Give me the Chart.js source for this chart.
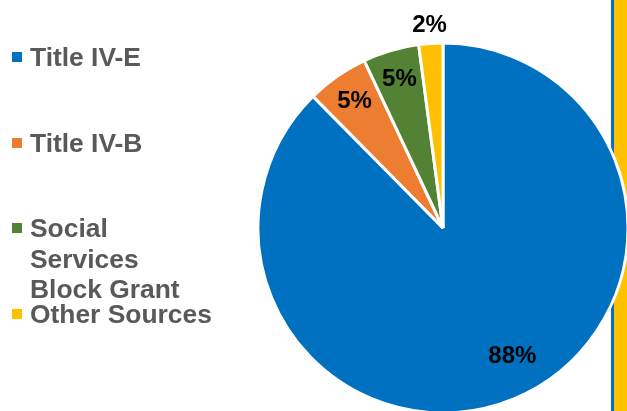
<!DOCTYPE html>
<html>
<head>
<meta charset="utf-8">
<script src="https://cdn.jsdelivr.net/npm/chart.js@4/dist/chart.umd.min.js"></script>
<style>
  html, body { margin: 0; padding: 0; background: #fff; overflow: hidden; }
  body { font-family: "Liberation Sans", Arial, sans-serif; }
  #pie { position: absolute; left: 0; top: 0; }
  #legend { position: absolute; z-index: 2; left: 0; top: 0; }
  .item { position: absolute; left: 0; width: 230px; }
  .item .box { position: absolute; left: 12px; top: 10px; width: 10px; height: 10px; }
  .item .txt { position: absolute; left: 30px; top: 0; width: 185px; font-weight: bold; font-size: 26.4px; line-height: 30.5px; color: #595959; }
</style>
</head>
<body>
<canvas id="pie" width="627" height="411"></canvas>
<div id="legend"></div>
<script>
// Funding sources (share of total, %)
const sources = ['Title IV-E', 'Title IV-B', 'Social Services Block Grant', 'Other Sources'];
const shares = [87.6, 5.4, 4.9, 2.1];
const colors = ['#0070C0', '#ED7D31', '#548235', '#FFC000'];

// label placement: fraction of radius, angle nudge in degrees
const labelPos = [
    { r: 0.79, shift: -6 },
    { r: 0.835, shift: 0 },
    { r: 0.835, shift: 0 },
    { r: 1.1, shift: 0 }
];

// HTML legend on the left
const legend = document.getElementById('legend');
sources.forEach((name, i) => {
    const item = document.createElement('div');
    item.className = 'item';
    item.style.top = (42 + i * 85.7) + 'px';
    item.innerHTML = '<div class="box" style="background:' + colors[i] + '"></div><div class="txt">' + name + '</div>';
    legend.appendChild(item);
});

// slide decoration: thin blue + yellow band on the right edge,
// kept outside the pie disc so the pie sits on top of it
const sideBand = {
    id: 'sideBand',
    afterDatasetsDraw(chart) {
        const ctx = chart.ctx;
        const arc = chart.getDatasetMeta(0).data[0];
        const p = arc.getProps(['x', 'y', 'outerRadius'], true);
        const bw = arc.options.borderWidth || 0;
        ctx.save();
        ctx.beginPath();
        ctx.rect(0, 0, chart.width, chart.height);
        ctx.arc(p.x, p.y, p.outerRadius + bw / 2, 0, Math.PI * 2, true);
        ctx.clip('evenodd');
        ctx.fillStyle = '#0070C0';
        ctx.fillRect(611, 0, 3, chart.height);
        ctx.fillStyle = '#FFC000';
        ctx.fillRect(614, 0, chart.width - 614, chart.height);
        ctx.restore();
    }
};

const pctLabels = {
    id: 'pctLabels',
    afterDatasetsDraw(chart) {
        const ctx = chart.ctx;
        const arcs = chart.getDatasetMeta(0).data;
        ctx.save();
        ctx.font = 'bold 24px "Liberation Sans", Arial, sans-serif';
        ctx.fillStyle = '#000';
        ctx.textAlign = 'center';
        ctx.textBaseline = 'middle';
        arcs.forEach((arc, i) => {
            const p = arc.getProps(['x', 'y', 'startAngle', 'endAngle', 'outerRadius'], true);
            const mid = (p.startAngle + p.endAngle) / 2 + labelPos[i].shift * Math.PI / 180;
            const rr = p.outerRadius * labelPos[i].r;
            ctx.fillText(Math.round(shares[i]) + '%', p.x + Math.cos(mid) * rr, p.y + Math.sin(mid) * rr);
        });
        ctx.restore();
    }
};

new Chart(document.getElementById('pie'), {
    type: 'pie',
    data: {
        labels: sources,
        datasets: [{
            data: shares,
            backgroundColor: colors,
            borderColor: '#fff',
            borderWidth: 3
        }]
    },
    options: {
        responsive: false,
        animation: false,
        devicePixelRatio: 1,
        radius: 185,
        layout: { padding: { left: 259, top: 45, right: 0, bottom: 0 } },
        plugins: {
            legend: { display: false },
            tooltip: { enabled: false }
        }
    },
    plugins: [sideBand, pctLabels]
});
</script>
</body>
</html>
